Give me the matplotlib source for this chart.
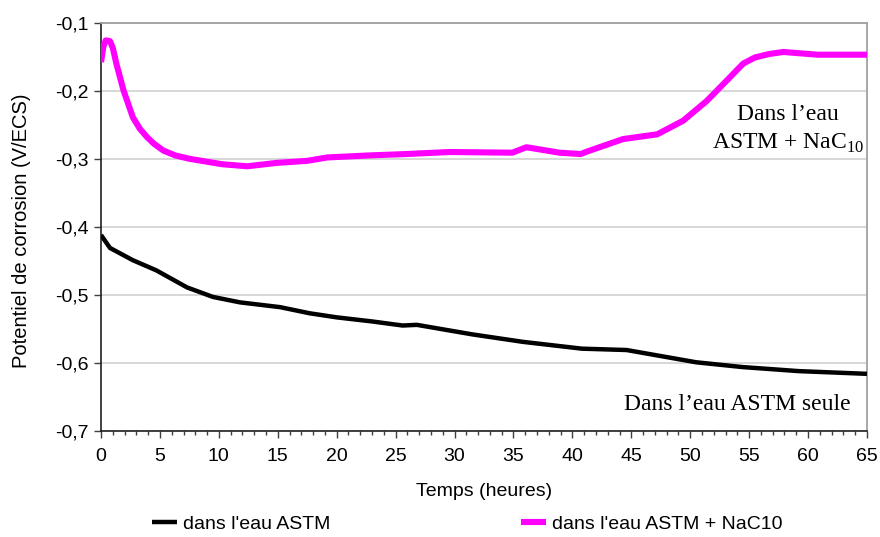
import matplotlib
matplotlib.use("Agg")
import matplotlib.pyplot as plt
from matplotlib.ticker import MultipleLocator, FuncFormatter

# --- data ---
t_astm = [0, 0.76, 2.7, 4.7, 7.3, 9.5, 11.8, 15.2, 17.7, 20.0, 23.0, 25.6,
          26.8, 31.5, 35.8, 40.8, 44.6, 50.5, 54.4, 59.2, 65.0]
e_astm = [-0.412, -0.431, -0.449, -0.464, -0.489, -0.503, -0.511, -0.518,
          -0.527, -0.533, -0.539, -0.545, -0.544, -0.558, -0.569, -0.579,
          -0.581, -0.599, -0.606, -0.612, -0.616]

t_nac10 = [0, 0.2, 0.4, 0.76, 1.0, 1.3, 1.9, 2.7, 3.3, 3.9, 4.5, 5.3, 6.3, 7.5,
           10.3, 12.4, 14.9, 17.5, 19.2, 22.8, 25.9, 29.6, 34.9, 36.1, 38.9,
           40.7, 41.3, 44.3, 47.2, 49.4, 51.4, 53.1, 54.5, 55.5, 56.7, 57.9,
           60.8, 65.0]
e_nac10 = [-0.158, -0.135, -0.126, -0.127, -0.137, -0.16, -0.199, -0.239,
           -0.256, -0.268, -0.278, -0.288, -0.295, -0.300, -0.308, -0.311,
           -0.306, -0.303, -0.298, -0.295, -0.293, -0.290, -0.291, -0.283,
           -0.291, -0.293, -0.289, -0.271, -0.264, -0.244, -0.215, -0.185,
           -0.160, -0.151, -0.146, -0.143, -0.147, -0.147]

plt.rcParams["font.family"] = ["Liberation Sans", "DejaVu Sans"]
plt.rcParams["mathtext.fontset"] = "custom"
plt.rcParams["mathtext.rm"] = "Liberation Serif"

fig = plt.figure(figsize=(8.8, 5.37), dpi=100)
ax = fig.add_axes([0.1148, 0.1974, 0.8704, 0.7603])

ax.plot(t_astm, e_astm, color="black", lw=3.2, solid_capstyle="butt",
        solid_joinstyle="round", label="dans l'eau ASTM", zorder=3)
ax.plot(t_nac10, e_nac10, color="#ff00ff", lw=4.4, solid_capstyle="butt",
        solid_joinstyle="round", label="dans l'eau ASTM + NaC10", zorder=3)

ax.set_xlim(0, 65)
ax.set_ylim(-0.7, -0.1)
ax.xaxis.set_major_locator(MultipleLocator(5))
ax.xaxis.set_minor_locator(MultipleLocator(1))
ax.yaxis.set_major_locator(MultipleLocator(0.1))
ax.yaxis.set_major_formatter(FuncFormatter(lambda v, p: f"{v:.1f}".replace(".", ",")))
ax.tick_params(axis="both", which="major", direction="out", length=5, width=1,
               labelsize=14, color="#404040")
ax.tick_params(axis="x", which="minor", direction="out", length=3, width=1, color="#404040")
ax.tick_params(axis="x", pad=7)
ax.tick_params(axis="y", pad=4)

ax.grid(True, axis="y", color="#d4d4d4", lw=1.3, zorder=0)
ax.set_axisbelow(True)
for side in ("top", "right"):
    ax.spines[side].set_color("#a0a0a0")
    ax.spines[side].set_linewidth(1.3)
for side in ("left", "bottom"):
    ax.spines[side].set_color("#202020")
    ax.spines[side].set_linewidth(1.2)

ax.set_xlabel("Temps (heures)", fontsize=14)
ax.set_ylabel("Potentiel de corrosion (V/ECS)", fontsize=14.5)
ax.xaxis.set_label_coords(0.5, -0.128)
ax.yaxis.set_label_coords(-0.092, 0.49)

ax.text(58.3, -0.257, "Dans l\u2019eau\nASTM + NaC$_{\\mathrm{10}}$",
        fontfamily="Liberation Serif", fontsize=17, ha="center", va="center",
        multialignment="center", linespacing=1.45)
ax.text(63.6, -0.661, "Dans l\u2019eau ASTM seule", fontfamily="Liberation Serif",
        fontsize=17, ha="right", va="center")

fig.legend(loc="center", bbox_to_anchor=(0.531, 0.024), ncol=2, frameon=False,
           fontsize=14, handlelength=1.3, handletextpad=0.3, columnspacing=9.8)

fig.savefig("out.png", dpi=100)
